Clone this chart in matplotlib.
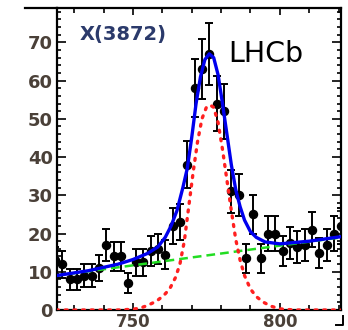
import matplotlib
matplotlib.use("Agg")
import matplotlib.pyplot as plt
from matplotlib.lines import Line2D
from matplotlib.ticker import MultipleLocator

# Binned candidates (mass difference in MeV) with Poisson errors
bin_x = [723.5, 726.0, 728.5, 731.0, 733.5, 736.0, 738.5, 741.0, 743.5, 746.0,
         748.5, 751.0, 753.5, 756.0, 758.5, 761.0, 763.5, 766.0, 768.5, 771.0,
         773.5, 776.0, 778.5, 781.0, 783.5, 786.0, 788.5, 791.0, 793.5, 796.0,
         798.5, 801.0, 803.5, 806.0, 808.5, 811.0, 813.5, 816.0, 818.5, 821.0]
counts = [13, 12, 8, 8, 9, 9, 11, 17, 14, 14,
          7, 12.5, 12.5, 15.5, 16, 14.5, 22, 23, 38, 58,
          63, 67, 54, 52, 31, 30, 13.5, 25, 13.5, 20,
          20, 15.5, 17.5, 16.5, 17, 21, 15, 17, 20, 22]
errors = [3.6, 3.5, 2.8, 2.8, 3.0, 3.0, 3.3, 4.1, 3.7, 3.7,
          2.6, 3.5, 3.5, 3.9, 4.0, 3.8, 4.7, 4.8, 6.2, 7.6,
          7.9, 8.2, 7.3, 7.2, 5.6, 5.5, 3.7, 5.0, 3.7, 4.5,
          4.5, 3.9, 4.2, 4.1, 4.1, 4.6, 3.9, 4.1, 4.5, 4.7]

# Total fit
fit_x = [724, 735, 745, 750, 755, 758.5, 761, 763, 765, 767, 768.5, 770,
         771.5, 773, 774.5, 776, 777.5, 779, 780.5, 782, 783.5, 785, 786.5,
         788, 790, 792, 795, 800, 810, 821]
fit_y = [9.0, 10.3, 12.0, 13.2, 14.8, 16.5, 19, 22, 26, 32, 37, 45,
         54, 61, 65.5, 67, 66, 61.5, 54, 46, 38, 31.5, 27,
         23.5, 20.5, 19, 17.8, 17.3, 18, 19.2]

# Signal component
sig_x = [724, 745, 750, 752.5, 755, 758, 760.5, 762.5, 764.5, 766, 767.5, 769,
         770.5, 772, 773.5, 775, 776.3, 777.5, 779, 780.5, 782, 783.5, 785,
         786.5, 788, 790, 792, 794.5, 797, 800, 805, 821]
sig_y = [0, 0, 0.2, 0.5, 1.2, 2.3, 3.8, 5.5, 8.5, 12, 18, 27,
         36, 44, 50, 53, 53.6, 53, 49, 42, 34, 26, 18.5,
         13, 9, 5.5, 3.5, 2, 1, 0.3, 0, 0]

# Linear background
bkg_x = [724, 821]
bkg_y = [9.0, 19.0]

label_color = "#4a4038"

fig = plt.figure(figsize=(3.48, 3.30), dpi=100)
ax = fig.add_axes([0.1624, 0.0606, 0.8189, 0.9152])

ax.errorbar(bin_x, counts, yerr=errors, fmt="o", color="black", ms=5.8,
            elinewidth=1.4, capsize=2.8, capthick=1.4, zorder=3)
ax.plot(bkg_x, bkg_y, color="#22dd22", lw=1.8, ls=(0, (3.5, 2)), zorder=4)
ax.plot(fit_x, fit_y, color="#0000ee", lw=2.4, zorder=5)
ax.plot(sig_x, sig_y, color="#ff2020", lw=2.4, ls=(0, (0.6, 2.0)),
        dash_capstyle="round", zorder=6)

ax.set_xlim(724, 821)
ax.set_ylim(0, 79)

ax.xaxis.set_major_locator(MultipleLocator(50))
ax.xaxis.set_minor_locator(MultipleLocator(10))
ax.yaxis.set_major_locator(MultipleLocator(10))
ax.yaxis.set_minor_locator(MultipleLocator(2))

ax.tick_params(axis="both", which="both", direction="in", top=True, right=True,
               width=1.2, colors="black", labelcolor=label_color)
ax.tick_params(axis="y", which="major", length=6.5, pad=2.5)
ax.tick_params(axis="y", which="minor", length=3.2)
ax.tick_params(axis="x", which="major", length=5, pad=2)
ax.tick_params(axis="x", which="minor", length=3.6)
for lab in ax.get_yticklabels():
    lab.set_fontfamily("DejaVu Sans")
    lab.set_fontweight("bold")
    lab.set_fontsize(13)
for lab in ax.get_xticklabels():
    lab.set_fontfamily("DejaVu Sans")
    lab.set_fontweight("bold")
    lab.set_fontsize(12)

for sp in ax.spines.values():
    sp.set_linewidth(1.6)

ax.text(0.0825, 0.9106, "X(3872)", transform=ax.transAxes, ha="left",
        va="center", fontsize=14, fontweight="bold", color="#2b3a6b",
        family="DejaVu Sans")
ax.text(0.602, 0.821, "LHCb", transform=ax.transAxes, ha="left",
        va="baseline", fontsize=20.5, color="black", family="DejaVu Sans")

# frame pieces outside the axes
W, H = 348.0, 330.0
fig.add_artist(Line2D([25 / W, 57 / W], [1 - 8 / H, 1 - 8 / H],
                      color="black", lw=1.6, transform=fig.transFigure))
fig.add_artist(Line2D([336 / W, 343 / W, 343 / W],
                      [1 - 325 / H, 1 - 325 / H, 1 - 316 / H],
                      color="black", lw=1.4, transform=fig.transFigure))

fig.savefig("out.png", dpi=100)
